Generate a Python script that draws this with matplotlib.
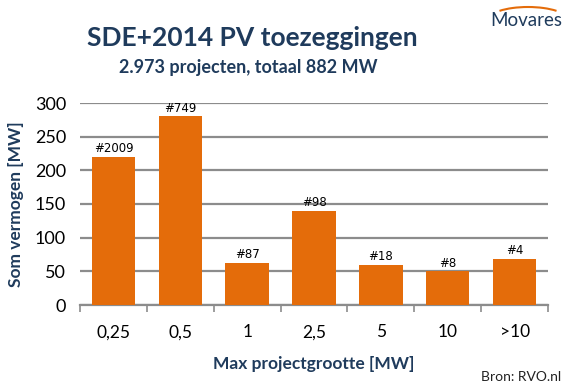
import numpy as np
import matplotlib.pyplot as plt
from matplotlib.patches import Arc

# Data
categories = ['0,25', '0,5', '1', '2,5', '5', '10', '>10']
vermogen = [220, 280, 63, 140, 60, 50, 69]
aantal = ['#2009', '#749', '#87', '#98', '#18', '#8', '#4']

navy = '#1F3B5C'
orange = '#E46C0A'

plt.rcParams['font.family'] = ['Lato', 'DejaVu Sans']

fig = plt.figure(figsize=(5.69, 3.9), dpi=100)
ax = fig.add_axes([80/569, 1-305/390, 468/569, 202/390])

x = np.arange(len(categories))
bars = ax.bar(x, vermogen, width=0.65, color=orange, zorder=3)

for xi, v, lab in zip(x, vermogen, aantal):
    ax.annotate(lab, (xi, v), textcoords='offset points', xytext=(0, 1),
                ha='center', va='bottom', fontsize=8.5, color='black',
                family=['DejaVu Sans'])

ax.set_xlim(-0.5, len(categories) - 0.5)
ax.set_ylim(0, 300)
ax.set_yticks(range(0, 301, 50))
ax.yaxis.grid(True, color='#8C8C8C', linewidth=1.6, zorder=0)
ax.tick_params(axis='y', length=0, labelsize=13, pad=10)

ax.set_xticks(x)
ax.set_xticklabels(categories, fontsize=12.5)
ax.tick_params(axis='x', length=0, pad=14)
# boundary ticks between categories
ax.set_xticks(np.arange(-0.5, len(categories)), minor=True)
ax.tick_params(axis='x', which='minor', length=5, color='#8C8C8C', width=1.2)

for s in ['top', 'right']:
    ax.spines[s].set_visible(False)
ax.spines['left'].set_visible(False)
ax.spines['bottom'].set_color('#8C8C8C')
ax.spines['bottom'].set_linewidth(1.6)

ax.set_ylabel('Som vermogen [MW]', fontsize=12.5, fontweight='bold', color=navy, labelpad=8)
ax.set_xlabel('Max projectgrootte [MW]', fontsize=12.5, fontweight='bold', color=navy, labelpad=11)

fig.text(252/569, 1-38/390, 'SDE+2014 PV toezeggingen', ha='center', va='center',
         fontsize=19, fontweight='bold', color=navy)
fig.text(248/569, 1-68/390, '2.973 projecten, totaal 882 MW', ha='center', va='center',
         fontsize=13, fontweight='bold', color=navy)

# logo
fig.text(526/569, 1-20/390, 'Movares', ha='center', va='center', fontsize=13.5, color=navy)
arc = Arc((528/569, 1-20/390), 80/569, 26/390, theta1=25, theta2=155,
          transform=fig.transFigure, color=orange, linewidth=1.5)
fig.add_artist(arc)

fig.text(561/569, 1-377/390, 'Bron: RVO.nl', ha='right', va='center', fontsize=10, color='#222222')

fig.savefig('out.png', dpi=100)
